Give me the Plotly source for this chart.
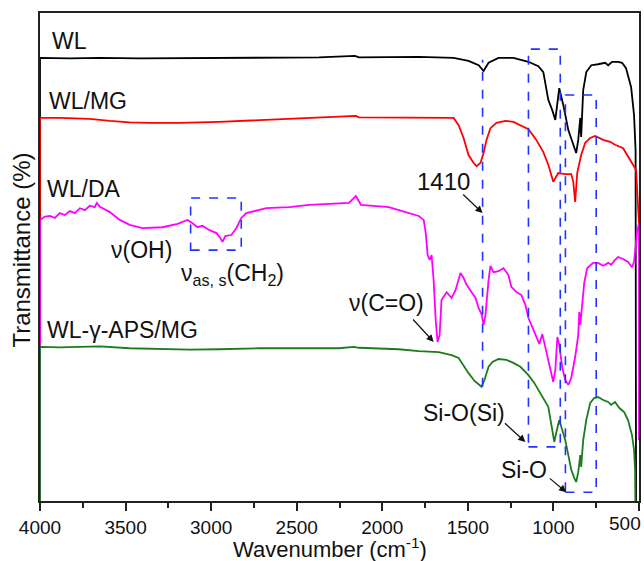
import plotly.graph_objects as go

# ---------------- data ----------------
wl_wn = [4000, 4000, 3825, 3651, 3418, 3068, 2719, 2369, 2160, 2136, 1787, 1583, 1496, 1437, 1408, 1379,
         1321, 1234, 1146, 1088, 1059, 1030, 1007, 989, 966, 942, 913, 884, 867, 855, 843, 838, 826,
         808, 779, 739, 698, 680, 657, 622, 599, 576, 546, 529, 520, 517]
wl_t = [-5, 90.8, 90.7, 90.8, 90.7, 90.8, 90.8, 90.9, 91.2, 90.9, 91.0, 90.8, 90.2, 89.3, 88.1, 89.8,
        90.8, 90.8, 90.0, 89.1, 87.9, 82.2, 80.1, 78.1, 84.6, 81.1, 76.0, 73.0, 71.3, 74.0, 78.5, 74.6, 84.2,
        87.9, 89.3, 89.5, 89.8, 89.3, 90.0, 90.0, 89.8, 88.7, 84.8, 79.1, 71.9, -5]

mg_wn = [4000, 4000, 3884, 3709, 3592, 3476, 3359, 3185, 2952, 2660, 2369, 2154, 2136, 1787, 1583, 1554,
         1525, 1496, 1467, 1449, 1426, 1408, 1391, 1368, 1333, 1280, 1234, 1146, 1100, 1059, 1030,
         1001, 972, 931, 896, 884, 873, 861, 838, 814, 785, 756, 709, 669, 640, 593, 564, 535, 517, 500]
mg_t = [-5, 78.5, 78.5, 78.3, 77.9, 77.6, 77.5, 77.5, 77.7, 78.1, 78.5, 78.9, 78.6, 78.6, 78.5, 77.0,
        74.4, 70.9, 69.3, 68.6, 69.3, 71.3, 74.0, 76.4, 77.5, 77.9, 77.7, 76.2, 74.0, 71.5, 68.9,
        65.4, 67.2, 67.0, 67.0, 65.4, 61.3, 67.2, 70.9, 73.4, 74.4, 74.8, 74.0, 73.6, 73.0, 72.3, 70.7,
        68.9, 67.8, 56.9]

da_wn = [4000, 4000, 3971, 3942, 3913, 3884, 3855, 3825, 3796, 3767, 3738, 3709, 3680, 3668, 3650, 3633,
         3592, 3534, 3476, 3400, 3284, 3196, 3138, 3109, 3080, 3051, 3010, 2969, 2946, 2934, 2917,
         2882, 2853, 2824, 2794, 2678, 2544, 2427, 2311, 2195, 2165, 2154, 2125, 2049, 1991, 1962,
         1903, 1845, 1787, 1758, 1746, 1735, 1723, 1712, 1700, 1688, 1677, 1665, 1654, 1624, 1595,
         1572, 1543, 1525, 1507, 1478, 1455, 1437, 1420, 1408, 1397, 1379, 1368, 1350, 1321, 1292,
         1263, 1246, 1216, 1187, 1164, 1146, 1117, 1100, 1082, 1065, 1047, 1030, 1012, 1001, 989,
         977, 966, 948, 931, 913, 896, 873, 855, 849, 843, 831, 820, 803, 768, 739, 709, 680, 663,
         640, 622, 593, 564, 541, 529, 511, 500, 500]
da_t = [-5, 57.6, 58.3, 58.4, 58.0, 59.0, 58.6, 59.4, 59.0, 60.0, 59.6, 60.5, 60.2, 61.1, 60.3, 60.0,
        59.2, 57.6, 56.6, 55.9, 56.1, 56.8, 57.6, 56.9, 56.1, 56.4, 55.5, 54.9, 53.9, 53.1, 54.3,
        54.5, 55.9, 58.0, 59.0, 60.0, 60.2, 60.7, 60.9, 61.1, 62.1, 62.5, 60.7, 60.5, 60.2, 60.2,
        59.6, 59.0, 58.4, 57.6, 54.9, 50.4, 49.4, 50.4, 45.3, 37.1, 32.6, 34.0, 41.2, 42.8, 41.6,
        43.2, 46.7, 45.7, 44.3, 42.8, 41.6, 39.5, 38.3, 36.1, 38.1, 45.3, 48.2, 46.9, 47.1, 47.7,
        46.3, 43.9, 42.8, 42.2, 40.2, 37.5, 35.0, 33.4, 32.2, 34.2, 31.4, 28.3, 25.8, 24.4, 26.8,
        33.6, 32.0, 27.3, 24.8, 23.8, 25.2, 29.5, 34.0, 38.7, 36.1, 41.2, 44.7, 47.7, 48.8, 48.8, 48.2,
        48.8, 48.4, 49.4, 50.0, 49.6, 49.0, 47.9, 49.0, 55.3, 56.9, 12.5]

aps_wn = [4000, 4000, 3884, 3767, 3651, 3476, 3301, 3126, 2952, 2719, 2486, 2253, 2165, 2136, 1903, 1787,
          1670, 1595, 1554, 1525, 1496, 1461, 1437, 1420, 1403, 1379, 1356, 1321, 1274, 1234, 1193,
          1146, 1112, 1088, 1059, 1030, 1012, 995, 983, 966, 948, 931, 913, 896, 878, 867, 855, 843,
          838, 826, 808, 785, 762, 739, 709, 680, 663, 640, 616, 587, 564, 541, 529, 523, 520]
aps_t = [-5, 31.6, 31.5, 31.6, 31.7, 31.3, 31.1, 31.0, 31.1, 31.3, 31.3, 31.3, 31.6, 31.4, 31.1, 30.7,
         30.5, 29.9, 29.3, 27.7, 26.2, 24.6, 24.0, 23.4, 24.8, 27.5, 28.5, 29.1, 28.9, 28.3, 27.5,
         25.8, 24.2, 22.7, 21.1, 19.3, 15.6, 12.1, 14.1, 16.6, 14.5, 12.5, 9.4, 6.4, 4.7, 3.9, 5.9, 9.4,
         7.0, 12.5, 16.6, 20.1, 21.1, 21.3, 20.7, 20.3, 19.7, 20.3, 19.1, 18.2, 16.6, 13.5, 10.5, 6.4, -5]

series_names = ["WL", "WL/MG", "WL/DA", "WL-γ-APS/MG"]
series_colors = ["#000000", "#ff0000", "#ff00ff", "#1c7c1c"]
x_ticks = [4000, 3500, 3000, 2500, 2000, 1500, 1000, 500]
x_tick_text = ["4000", "3500", "3000", "2500", "2000", "1500", "1000", ""]  # 500 drawn at the edge below

# ---------------- figure ----------------
fig = go.Figure()
for wn, t, name, col in zip([wl_wn, mg_wn, da_wn, aps_wn], [wl_t, mg_t, da_t, aps_t],
                            series_names, series_colors):
    fig.add_trace(go.Scatter(x=wn, y=t, mode="lines", name=name,
                             line=dict(color=col, width=1.8), showlegend=False))

FONT = "Liberation Sans, Arial, sans-serif"
BLUE = "#2233ff"

def dbox(x0, x1, y0, y1):
    fig.add_shape(type="rect", xref="x", yref="y", x0=x0, x1=x1, y0=y0, y1=y1,
                  line=dict(color=BLUE, width=1.6, dash="dash"), fillcolor="rgba(0,0,0,0)")

dbox(3120, 2824, 51.4, 62.1)
dbox(1146, 960, 11.1, 92.6)
dbox(930, 750, 1.8, 83.2)
fig.add_shape(type="line", xref="x", yref="y", x0=1414, x1=1414, y0=23.4, y1=90.4,
              line=dict(color=BLUE, width=1.6, dash="dash"))

# curve labels
label_pos = [(3942, 94.3), (3959, 82.0), (3971, 63.9), (3971, 35.0)]
for (lx, ly), name in zip(label_pos, series_names):
    fig.add_annotation(x=lx, y=ly, text=name, showarrow=False, xanchor="left", yanchor="middle",
                       font=dict(family=FONT, size=23, color="#111"))

# peak labels with arrows
def arrow(tx, ty, hx, hy):
    fig.add_annotation(x=hx, y=hy, ax=tx, ay=ty, axref="x", ayref="y", xref="x", yref="y",
                       text="", showarrow=True, arrowhead=2, arrowsize=1.2, arrowwidth=1.2,
                       arrowcolor="#111")

def label(x, y, text, size=23):
    fig.add_annotation(x=x, y=y, text=text, showarrow=False, xanchor="center", yanchor="middle",
                       font=dict(family=FONT, size=size, color="#111"))

label(1641, 65.4, "1410", 24)
arrow(1536, 63.1, 1414, 59.0)
label(1973, 40.6, "ν(C=O)")
arrow(1828, 37.5, 1700, 32.6)
label(1525, 18.0, "Si-O(Si)")
arrow(1292, 16.2, 1164, 12.1)
label(1170, 6.4, "Si-O")
arrow(1030, 4.9, 925, 1.8)
label(3406, 51.4, "ν(OH)")
label(2876, 46.5, "ν<sub>as, s</sub>(CH<sub>2</sub>)")

# last tick label, pulled inside the page edge as in the reference
fig.add_annotation(xref="x", yref="paper", x=x_ticks[-1], y=-0.046, text=str(x_ticks[-1]),
                   showarrow=False, xanchor="right", yanchor="middle", xshift=4,
                   font=dict(family=FONT, size=19, color="#111"))

# axis titles
fig.add_annotation(xref="paper", yref="paper", x=-0.031, y=0.514, text="Transmittance (%)",
                   textangle=-90, showarrow=False, xanchor="center", yanchor="middle",
                   font=dict(family=FONT, size=24, color="#111"))
fig.add_annotation(xref="paper", yref="paper", x=0.484, y=-0.097, text="Wavenumber (cm<sup>-1</sup>)",
                   showarrow=False, xanchor="center", yanchor="middle",
                   font=dict(family=FONT, size=22, color="#111"))

fig.update_layout(
    width=644, height=561,
    margin=dict(l=40, r=3, t=13, b=60),
    paper_bgcolor="white", plot_bgcolor="white",
    font=dict(family=FONT, color="#111"),
    xaxis=dict(range=[4000, 500], tickvals=x_ticks, ticktext=x_tick_text, ticks="outside",
               ticklen=8, tickwidth=1.5, automargin=False,
               tickcolor="#222", showline=True, linecolor="#222", linewidth=1.5, mirror=True,
               showgrid=False, zeroline=False, layer="below traces",
               tickfont=dict(family=FONT, size=19, color="#111"),
               minor=dict(dtick=250, tick0=500, ticks="outside", ticklen=5, tickwidth=1.5, tickcolor="#222")),
    yaxis=dict(range=[0, 100], showticklabels=False, ticks="", showline=True, linecolor="#222",
               linewidth=1.5, mirror=True, showgrid=False, zeroline=False, layer="below traces"),
)

fig.write_html("out.html", config={"displayModeBar": False},
               post_script="document.body.style.margin='0';document.body.style.padding='0';")
